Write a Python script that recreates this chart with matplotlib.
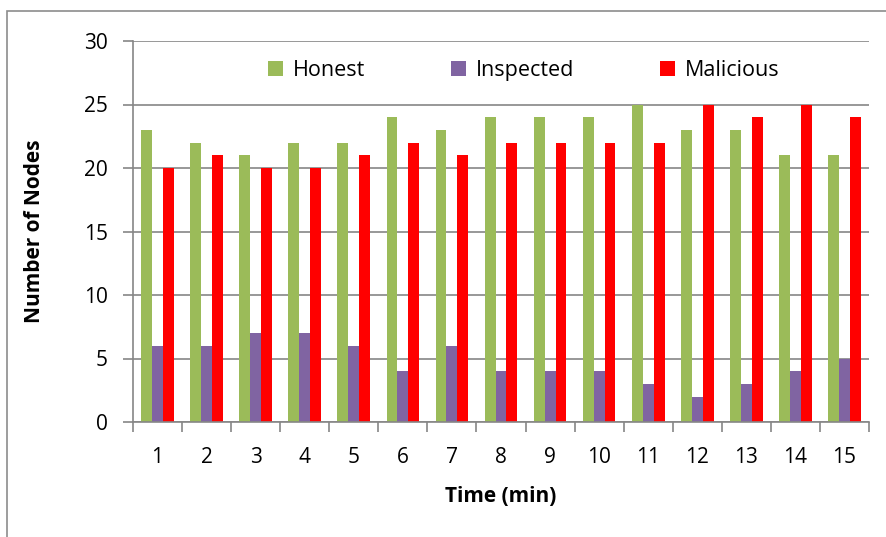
import matplotlib
matplotlib.use("Agg")
import matplotlib.pyplot as plt
import numpy as np
from matplotlib.patches import Rectangle

plt.rcParams['font.family'] = ['Open Sans', 'DejaVu Sans']

# dados
minutes = [str(i) for i in range(1, 16)]
honest = [23, 22, 21, 22, 22, 24, 23, 24, 24, 24, 25, 23, 23, 21, 21]
inspected = [6, 6, 7, 7, 6, 4, 6, 4, 4, 4, 3, 2, 3, 4, 5]
malicious = [20, 21, 20, 20, 21, 22, 21, 22, 22, 22, 22, 25, 24, 25, 24]

fig = plt.figure(figsize=(8.87, 5.37), dpi=100)
ax = fig.add_axes([133/887, 1 - 422/537, (869-133)/887, (422-41)/537])

# moldura cinza da figura
fig.patches.append(Rectangle((7/887, -0.1), 1.2, 1 - 11/537 + 0.1, transform=fig.transFigure,
                             fill=False, edgecolor='#8c8c8c', linewidth=1.2))

x = np.arange(len(minutes))
w = 0.222
ax.bar(x - w, honest, w, color='#9BBB59', label='Honest', zorder=3)
ax.bar(x, inspected, w, color='#8064A2', label='Inspected', zorder=3)
ax.bar(x + w, malicious, w, color='#FF0000', label='Malicious', zorder=3)

ax.set_xlim(-0.5, len(minutes) - 0.5)
ax.set_ylim(0, 30)
ax.set_yticks(range(0, 31, 5))
ax.set_xticks(x)
ax.set_xticklabels(minutes)
ax.set_xticks(np.arange(-0.5, len(minutes)), minor=True)
ax.tick_params(axis='x', which='major', length=0, pad=18, labelsize=15)
ax.tick_params(axis='x', which='minor', length=7, color='#868686', width=1.2, direction='out')
ax.tick_params(axis='y', length=7, color='#868686', width=1.2, labelsize=15, pad=11)

ax.yaxis.grid(True, color='#868686', linewidth=1.2, zorder=0)
ax.set_axisbelow(True)
for s in ['top', 'right']:
    ax.spines[s].set_visible(False)
for s in ['left', 'bottom']:
    ax.spines[s].set_color('#868686')
    ax.spines[s].set_linewidth(1.2)
    ax.spines[s].set_zorder(4)

ax.set_xlabel('Time (min)', fontsize=15, fontweight='bold', labelpad=13)
ax.set_ylabel('Number of Nodes', fontsize=15, fontweight='bold', labelpad=28)

leg = ax.legend(loc='upper center', bbox_to_anchor=(0.531, 1.0), ncol=3, frameon=False,
                fontsize=15.5, handlelength=0.7, handleheight=0.7, handletextpad=0.45,
                columnspacing=4.0)

fig.savefig('out.png', dpi=100)
